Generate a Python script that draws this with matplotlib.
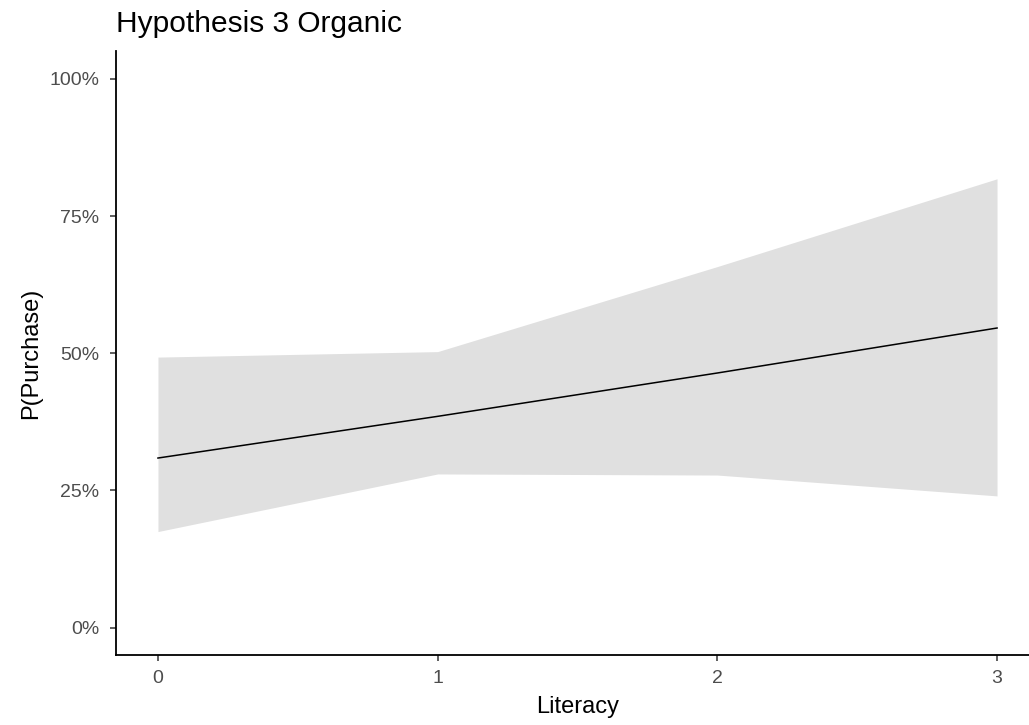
import numpy as np
import matplotlib.pyplot as plt
from matplotlib.ticker import FuncFormatter

plt.rcParams['font.family'] = ['Liberation Sans', 'DejaVu Sans']

# predicted probability of purchase by literacy score
literacy = [0, 1, 2, 3]
predicted = [0.309, 0.385, 0.464, 0.546]
ci_low = [0.175, 0.280, 0.278, 0.240]
ci_high = [0.493, 0.503, 0.658, 0.818]

fig = plt.figure(figsize=(10.29, 7.25), dpi=100)
W, H = 1029, 725
ax = fig.add_axes([116 / W, (H - 655) / H, (1039 - 116) / W, (655 - 51.5) / H])

ax.fill_between(literacy, ci_low, ci_high, color='#E0E0E0', linewidth=0)
ax.plot(literacy, predicted, color='black', linewidth=1.1)

ax.set_xlim(-0.15, 3.15)
ax.set_ylim(-0.05, 1.05)
ax.set_xticks(literacy)
ax.set_yticks([0, 0.25, 0.5, 0.75, 1.0])
ax.yaxis.set_major_formatter(FuncFormatter(lambda v, _: f'{v * 100:.0f}%'))

for side in ['top', 'right']:
    ax.spines[side].set_visible(False)
for side in ['left', 'bottom']:
    ax.spines[side].set_linewidth(1.3)
    ax.spines[side].set_color('black')

ax.tick_params(axis='both', length=4.5, width=1.1, color='#333333',
               labelsize=14, labelcolor='#4D4D4D')
ax.tick_params(axis='x', pad=6)
ax.tick_params(axis='y', pad=7.5)

ax.set_xlabel('Literacy', fontsize=17, color='black', labelpad=7)
ax.set_ylabel('P(Purchase)', fontsize=17, color='black', labelpad=5)
fig.text(116 / W, 1 - 32 / H, 'Hypothesis 3 Organic', fontsize=21.5,
         ha='left', va='baseline', color='black')

fig.savefig('out.png', dpi=100)
